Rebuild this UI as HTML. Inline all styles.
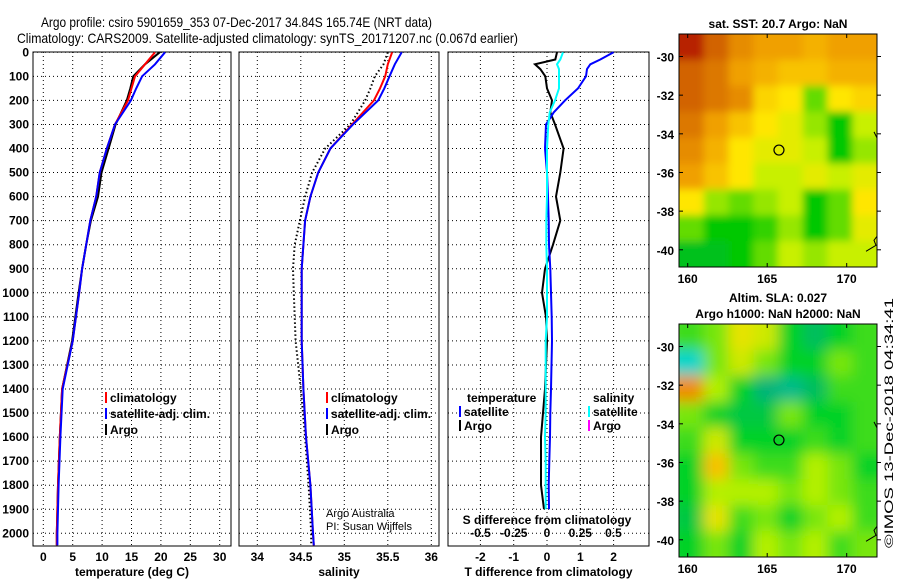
<!DOCTYPE html>
<html><head><meta charset="utf-8"><style>
body{margin:0;background:#fff;}
svg{display:block;font-family:"Liberation Sans",sans-serif;}
.t{font-size:12px;font-weight:bold;fill:#000;}
.grid{stroke:#000;stroke-width:1;stroke-dasharray:1 3;}
</style></head><body>
<svg id="chart" width="900" height="580" viewBox="0 0 900 580" xmlns="http://www.w3.org/2000/svg">
<defs>
<filter id="blurS" x="-5%" y="-5%" width="110%" height="110%"><feGaussianBlur stdDeviation="4"/></filter>
<filter id="blurL" x="-5%" y="-5%" width="110%" height="110%"><feGaussianBlur stdDeviation="7"/></filter>
<clipPath id="clipTop"><rect x="679" y="34" width="198" height="233"/></clipPath>
<clipPath id="clipBot"><rect x="679" y="324" width="198" height="233"/></clipPath>
</defs>
<rect width="900" height="580" fill="#fff"/>
<text x="41" y="27" font-size="14" textLength="391" lengthAdjust="spacingAndGlyphs">Argo profile: csiro 5901659_353 07-Dec-2017 34.84S 165.74E (NRT data)</text>
<text x="17" y="43" font-size="14" textLength="501" lengthAdjust="spacingAndGlyphs">Climatology: CARS2009. Satellite-adjusted climatology: synTS_20171207.nc (0.067d earlier)</text>
<g id="g"></g>
<text transform="translate(893,548) rotate(-90)" font-size="12" textLength="250" lengthAdjust="spacingAndGlyphs">©IMOS 13-Dec-2018 04:34:41</text>
</svg>
<script>
// ---- data ----
const depths = [0,50,100,150,200,300,400,500,600,700,800,900,1000,1200,1400,1600,1800,2000,2050];
const tempClim = [19,17.3,15.6,15,14.4,12.2,10.8,9.6,9,8,7.3,6.6,6.1,5.0,3.2,2.8,2.5,2.3,2.3];
const tempSat  = [20.7,19,16.8,15.8,14.9,12.2,10.8,9.6,9,8,7.3,6.6,6.1,5.0,3.3,2.9,2.6,2.4,2.4];
const tempArgo = [19.8,17.3,15.3,14.8,14.2,12.3,11.1,9.9,9.3,8.1,7.3,6.6,6.0,4.9,3.2,2.8,2.5,2.3,2.3];
const salClim = [35.55,35.5,35.47,35.41,35.34,35.09,34.84,34.70,34.61,34.55,34.53,34.51,34.51,34.51,34.53,34.56,34.61,34.64,34.65];
const salSat  = [35.66,35.58,35.52,35.46,35.39,35.10,34.84,34.70,34.61,34.55,34.53,34.51,34.51,34.51,34.53,34.56,34.61,34.64,34.65];
const salArgo = [35.5,35.45,35.35,35.3,35.24,35.07,34.78,34.63,34.55,34.49,34.43,34.41,34.42,34.44,34.5,34.55,34.59,34.62,34.62];
const dDepths = [0,30,50,70,100,150,200,250,300,400,500,600,700,800,900,1000,1100,1200,1400,1500,1600,1700,1800,1900];
const tDiffArgo = [0.3,0.25,-0.36,-0.2,-0.05,0.0,0.15,0.1,0.24,0.5,0.4,0.27,0.4,0.18,-0.06,-0.15,-0.03,0.0,-0.06,-0.12,-0.18,-0.18,-0.18,-0.09];
const tDiffSat  = [2.0,1.6,1.3,1.2,1.17,0.93,0.54,0.2,-0.03,-0.06,0.0,0.03,0.05,0.06,0.1,0.12,0.14,0.15,0.12,0.1,0.09,0.07,0.05,0.06];
const sDiffSat  = [0.12,0.1,0.075,0.09,0.09,0.09,0.06,0.02,0.01,0.0,0.0,0.0,-0.005,-0.005,0.0,0.0,0.0,-0.01,-0.01,-0.01,-0.015,-0.01,-0.01,-0.01];
const depthTicks = [0,100,200,300,400,500,600,700,800,900,1000,1100,1200,1300,1400,1500,1600,1700,1800,1900,2000];
const tempTicks = [0,5,10,15,20,25,30];
const salTicks = [34,34.5,35,35.5,36];
const tdTicks = [-2,-1,0,1,2];
const sdTicks = [-0.5,-0.25,0,0.25,0.5];
const lonTicks = [160,165,170];
const latTicks = [-30,-32,-34,-36,-38,-40];
const sstGrid = [
[0.95,0.85,0.75,0.7,0.7,0.65,0.7,0.7],
[0.85,0.8,0.7,0.65,0.6,0.6,0.65,0.65],
[0.85,0.8,0.75,0.55,0.5,0.3,0.5,0.55],
[0.8,0.7,0.6,0.5,0.45,0.35,0.2,0.4],
[0.75,0.65,0.5,0.45,0.45,0.4,0.2,0.35],
[0.7,0.6,0.5,0.4,0.4,0.45,0.4,0.45],
[0.5,0.35,0.3,0.35,0.4,0.2,0.3,0.5],
[0.3,0.2,0.2,0.25,0.35,0.2,0.3,0.45],
[0.15,0.15,0.2,0.3,0.4,0.35,0.4,0.4]];
const slaGrid = [
[0.5,0.55,0.7,0.65,0.45,0.35,0.45,0.5],
[0.05,0.55,0.65,0.55,0.45,0.45,0.55,0.5],
[0.9,0.6,0.45,0.3,0.25,0.35,0.5,0.5],
[0.55,0.45,0.4,0.4,0.55,0.45,0.45,0.5],
[0.5,0.65,0.45,0.45,0.45,0.5,0.45,0.5],
[0.45,0.8,0.55,0.5,0.5,0.6,0.55,0.45],
[0.45,0.6,0.6,0.6,0.55,0.6,0.55,0.5],
[0.4,0.7,0.5,0.55,0.45,0.55,0.6,0.5],
[0.45,0.55,0.45,0.6,0.55,0.6,0.5,0.55]];
const floatLon = 165.74, floatLat = -34.84;

const NS='http://www.w3.org/2000/svg';
const G=document.getElementById('g');
function mk(tag,attrs,parent){const e=document.createElementNS(NS,tag);for(const k in attrs)e.setAttribute(k,attrs[k]);(parent||G).appendChild(e);return e;}
function txt(x,y,s,anchor,cls,size){const e=mk('text',{x:x,y:y,'text-anchor':anchor||'start',class:cls||'t'});if(size)e.setAttribute('font-size',size);e.textContent=s;return e;}
const yD = d => 52.3 + d*0.2405;
const PT=52, PB=546;
const xT = v => 43.3 + v*5.88;
const xS = v => 257.3 + (v-34)*87;
const xTD = v => 547 + v*33.3;
const xSD = v => 547 + v*133;

function panel(name,x0,x1,xTicks,xf,labels,title){
  const g=mk('g',{});
  
  
  depthTicks.forEach(d=>{mk('line',{x1:x0,x2:x1,y1:yD(d),y2:yD(d),class:'grid'},g);});
  xTicks.forEach(v=>{mk('line',{x1:xf(v),x2:xf(v),y1:PT,y2:PB,class:'grid'},g);});
  mk('rect',{x:x0,y:PT,width:x1-x0,height:PB-PT,fill:'none',stroke:'#000','stroke-width':1},g);
  if(labels){xTicks.forEach((v,i)=>{const t=txt(xf(v),561,labels[i],'middle');});}
  if(title){const t=txt((x0+x1)/2,576,title,'middle');}
  return g;
}
function line(xs,ds,xf,color,name,dash,w){
  const pts=xs.map((v,i)=>xf(v).toFixed(1)+','+yD(ds[i]).toFixed(1)).join(' ');
  const p=mk('polyline',{points:pts,fill:'none',stroke:color,'stroke-width':w||2});
  if(dash)p.setAttribute('stroke-dasharray',dash);
  
  
}
depthTicks.forEach(d=>{const t=txt(29,yD(d)+4,String(d),'end');});

panel('temperature-panel',33,231,tempTicks,xT,tempTicks.map(String),'temperature (deg C)');
line(tempArgo,depths,xT,'#000','temp-argo-line');
line(tempClim,depths,xT,'#f00','temp-climatology-line');
line(tempSat,depths,xT,'#00f','temp-satellite-line');
panel('salinity-panel',239,439,salTicks,xS,salTicks.map(String),'salinity');
line(salArgo,depths,xS,'#000','sal-argo-line','1.5 2.5',2);
line(salClim,depths,xS,'#f00','sal-climatology-line');
line(salSat,depths,xS,'#00f','sal-satellite-line');
panel('difference-panel',448,649,tdTicks,xTD,tdTicks.map(String),'T difference from climatology');
line(tDiffArgo,dDepths,xTD,'#000','tdiff-argo-line');
line(tDiffSat,dDepths,xTD,'#00f','tdiff-satellite-line');
line(sDiffSat,dDepths,xSD,'#0ff','sdiff-satellite-line');
sdTicks.forEach(v=>{const t=txt(xSD(v),537,String(v),'middle');});
{const t=txt(547,524,'S difference from climatology','middle');}

function legend(x,y,color,label,name){const g=mk('g',{});
  mk('rect',{x:x,y:y-10,width:2,height:11,fill:color},g);const t=mk('text',{x:x+5,y:y,class:'t'},g);t.textContent=label;}
legend(105,402,'#f00','climatology','legend-temp-climatology');
legend(105,418,'#00f','satellite-adj. clim.','legend-temp-satellite');
legend(105,434,'#000','Argo','legend-temp-argo');
legend(326,402,'#f00','climatology','legend-sal-climatology');
legend(326,418,'#00f','satellite-adj. clim.','legend-sal-satellite');
legend(326,434,'#000','Argo','legend-sal-argo');
{const t=txt(467,402,'temperature');}
legend(459,416,'#00f','satellite','legend-tdiff-satellite');
legend(459,430,'#000','Argo','legend-tdiff-argo');
{const t=txt(593,402,'salinity');}
legend(588,416,'#0ff','satellite','legend-sdiff-satellite');
legend(588,430,'#f0f','Argo','legend-sdiff-argo');
{const t=mk('text',{x:326,y:517,'font-size':11});t.textContent='Argo Australia';}
{const t=mk('text',{x:326,y:530,'font-size':11});t.textContent='PI: Susan Wijffels';}

function lerpC(stops,v){v=Math.max(0,Math.min(1,v));for(let i=1;i<stops.length;i++){if(v<=stops[i][0]){const a=stops[i-1],b=stops[i];const f=(v-a[0])/(b[0]-a[0]);return 'rgb('+[1,2,3].map(k=>Math.round(a[k]+(b[k]-a[k])*f)).join(',')+')';}}const l=stops[stops.length-1];return 'rgb('+l[1]+','+l[2]+','+l[3]+')';}
const sstStops=[[0,0,170,110],[0.2,0,200,0],[0.4,200,240,0],[0.5,255,230,0],[0.7,240,160,0],[0.85,210,100,0],[1,170,0,0]];
const slaStops=[[0,0,220,220],[0.3,0,180,120],[0.45,0,210,40],[0.6,180,240,0],[0.75,255,220,0],[0.9,240,140,0],[1,230,100,0]];
function map(name,top,bottom,grid,stops,clip,filt,t1,t2){
  const g=mk('g',{});
  const x0=679,x1=877;
  const lonX=lon=>687.7+(lon-160)*15.9;
  const lat30=top+22.5;
  const ppd=19.33;
  const LY=lat=>lat30+(-30-lat)*ppd;
  const rows=grid.length, cols=grid[0].length;
  const cw=(x1-x0)/cols, ch=(bottom-top)/rows;
  const cg=mk('g',{'clip-path':'url(#'+clip+')'},g);
  const fg=mk('g',{filter:'url(#'+filt+')'},cg);
  grid.forEach((r,i)=>r.forEach((v,j)=>{
    const ex0=j===0?-12:0, ex1=j===cols-1?12:0, ey0=i===0?-12:0, ey1=i===rows-1?12:0;
    const c=mk('rect',{x:x0+j*cw+ex0,y:top+i*ch+ey0,width:cw+0.5-ex0+ex1,height:ch+0.5-ey0+ey1,fill:lerpC(stops,v)},fg);
    }));
  mk('rect',{x:x0,y:top,width:x1-x0,height:bottom-top,fill:'none',stroke:'#000'},g);
  lonTicks.forEach(l=>{mk('line',{x1:lonX(l),x2:lonX(l),y1:top,y2:top+4,stroke:'#000'},g);mk('line',{x1:lonX(l),x2:lonX(l),y1:bottom,y2:bottom-4,stroke:'#000'},g);
    const t=txt(lonX(l),bottom+16,String(l),'middle');});
  latTicks.forEach(l=>{mk('line',{x1:x0,x2:x0+4,y1:LY(l),y2:LY(l),stroke:'#000'},g);mk('line',{x1:x1,x2:x1+4,y1:LY(l),y2:LY(l),stroke:'#000'},g);
    const t=txt(674,LY(l)+5,String(l),'end');});
  mk('path',{d:`M${x1-3} ${LY(-33.9)} l3 6 M${x1} ${LY(-39.3)} l-3 4 l2 5 l-10 6`,fill:'none',stroke:'#000'},g);
  const c=mk('circle',{cx:lonX(floatLon),cy:LY(floatLat),r:5,fill:'none',stroke:'#000','stroke-width':1.2},g);
  
  const a=txt(778,t2?top-22:top-6,t1,'middle');
  if(t2){const b=txt(778,top-6,t2,'middle');}
}
map('sst-map',34,267,sstGrid,sstStops,'clipTop','blurS','sat. SST: 20.7 Argo: NaN');
map('sla-map',324,557,slaGrid,slaStops,'clipBot','blurL','Altim. SLA: 0.027','Argo h1000: NaN h2000: NaN');
</script>
</body></html>
